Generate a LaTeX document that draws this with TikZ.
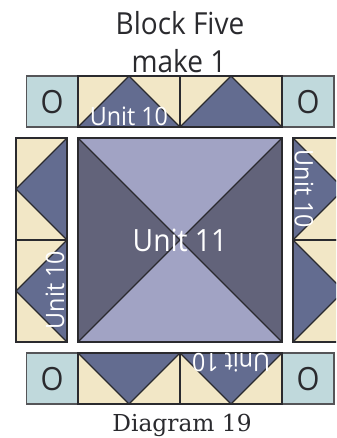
\documentclass[tikz,border=0pt]{standalone}
\usepackage{fontspec}
\setmainfont[FakeStretch=0.92]{Open Sans}
\newfontfamily\capfont{DejaVu Serif}
\definecolor{cream}{HTML}{F2E7C6}
\definecolor{slate}{HTML}{636C90}
\definecolor{teal}{HTML}{C0D9DC}
\definecolor{lav}{HTML}{A1A3C4}
\definecolor{darkgr}{HTML}{62637A}
\definecolor{ink}{HTML}{2A2A2E}
\tikzset{
  seam/.style={draw=ink,line width=0.9pt,line join=miter},
  labelw/.style={text=white,font=\fontsize{19}{20}\selectfont,inner sep=0pt},
  letter/.style={text=ink,font=\fontsize{24}{26}\selectfont,inner sep=0pt},
  title/.style={text=ink,font=\fontsize{22.8}{26}\selectfont,inner sep=0pt},
  pics/gooseup/.style={code={
    \fill[cream] (-51,0) rectangle (51,-51);
    \fill[slate] (-51,0) -- (0,-51) -- (51,0) -- cycle;
    \draw[seam] (-51,0) -- (0,-51) -- (51,0);
    \draw[seam] (-51,0) rectangle (51,-51);
  }},
  pics/goosedown/.style={code={
    \fill[cream] (-51,0) rectangle (51,51);
    \fill[slate] (-51,0) -- (0,51) -- (51,0) -- cycle;
    \draw[seam] (-51,0) -- (0,51) -- (51,0);
    \draw[seam] (-51,0) rectangle (51,51);
  }},
  pics/gooseleft/.style={code={
    \fill[cream] (0,-51) rectangle (-51,51);
    \fill[slate] (0,-51) -- (-51,0) -- (0,51) -- cycle;
    \draw[seam] (0,-51) -- (-51,0) -- (0,51);
    \draw[seam] (0,-51) rectangle (-51,51);
  }},
  pics/gooseright/.style={code={
    \fill[cream] (0,-51) rectangle (51,51);
    \fill[slate] (0,-51) -- (51,0) -- (0,51) -- cycle;
    \draw[seam] (0,-51) -- (51,0) -- (0,51);
    \draw[seam] (0,-51) rectangle (51,51);
  }},
  pics/square/.style={code={
    \fill[teal] (0,0) rectangle (51.5,51);
    \draw[seam,draw=ink!80] (0,0) rectangle (51.5,51);
  }}
}
\begin{document}
\begin{tikzpicture}[x=0.75pt,y=-0.75pt]
\useasboundingbox (0,0) rectangle (336,438);
\clip (0,0) rectangle (336,438);
% top row
\pic at (26.5,76) {square};
\pic at (282.5,76) {square};
\pic at (129,127) {gooseup};
\pic at (231,127) {gooseup};
% bottom row
\pic at (26.5,353) {square};
\pic at (282.5,353) {square};
\pic at (129,353) {goosedown};
\pic at (231,353) {goosedown};
% left column
\pic at (67,189) {gooseleft};
\pic at (67,291) {gooseleft};
% right column
\pic at (293,189) {gooseright};
\pic at (293,291) {gooseright};
% centre block
\fill[lav] (78,138) rectangle (282,342);
\fill[darkgr] (78,138) -- (180,240) -- (78,342) -- cycle;
\fill[darkgr] (282,138) -- (180,240) -- (282,342) -- cycle;
\draw[seam] (78,138) -- (282,342);
\draw[seam] (282,138) -- (78,342);
\draw[seam] (78,138) rectangle (282,342);
% texts
\node[title] (t1) at (180,23) {Block Five};
\node[title] (t2) at (179,61) {make 1};
\node[letter] (o1) at (52,102) {O};
\node[letter] (o2) at (308,102) {O};
\node[letter] (o3) at (52,379) {O};
\node[letter] (o4) at (308,379) {O};
\node[labelw] (u1) at (129,116.5) {Unit 10};
\node[labelw,rotate=90] (u2) at (55,290) {Unit 10};
\node[labelw,rotate=-90] (u3) at (304,189) {Unit 10};
\node[labelw,rotate=180] (u4) at (231,363) {Unit 10};
\node[text=white,font=\fontsize{23}{26}\selectfont,inner sep=0pt] (u5) at (180,240) {Unit 11};
\node[text=ink,font=\capfont\fontsize{17.5}{20}\selectfont,inner sep=0pt] (cap) at (182,425) {Diagram 19};
\end{tikzpicture}
\end{document}
